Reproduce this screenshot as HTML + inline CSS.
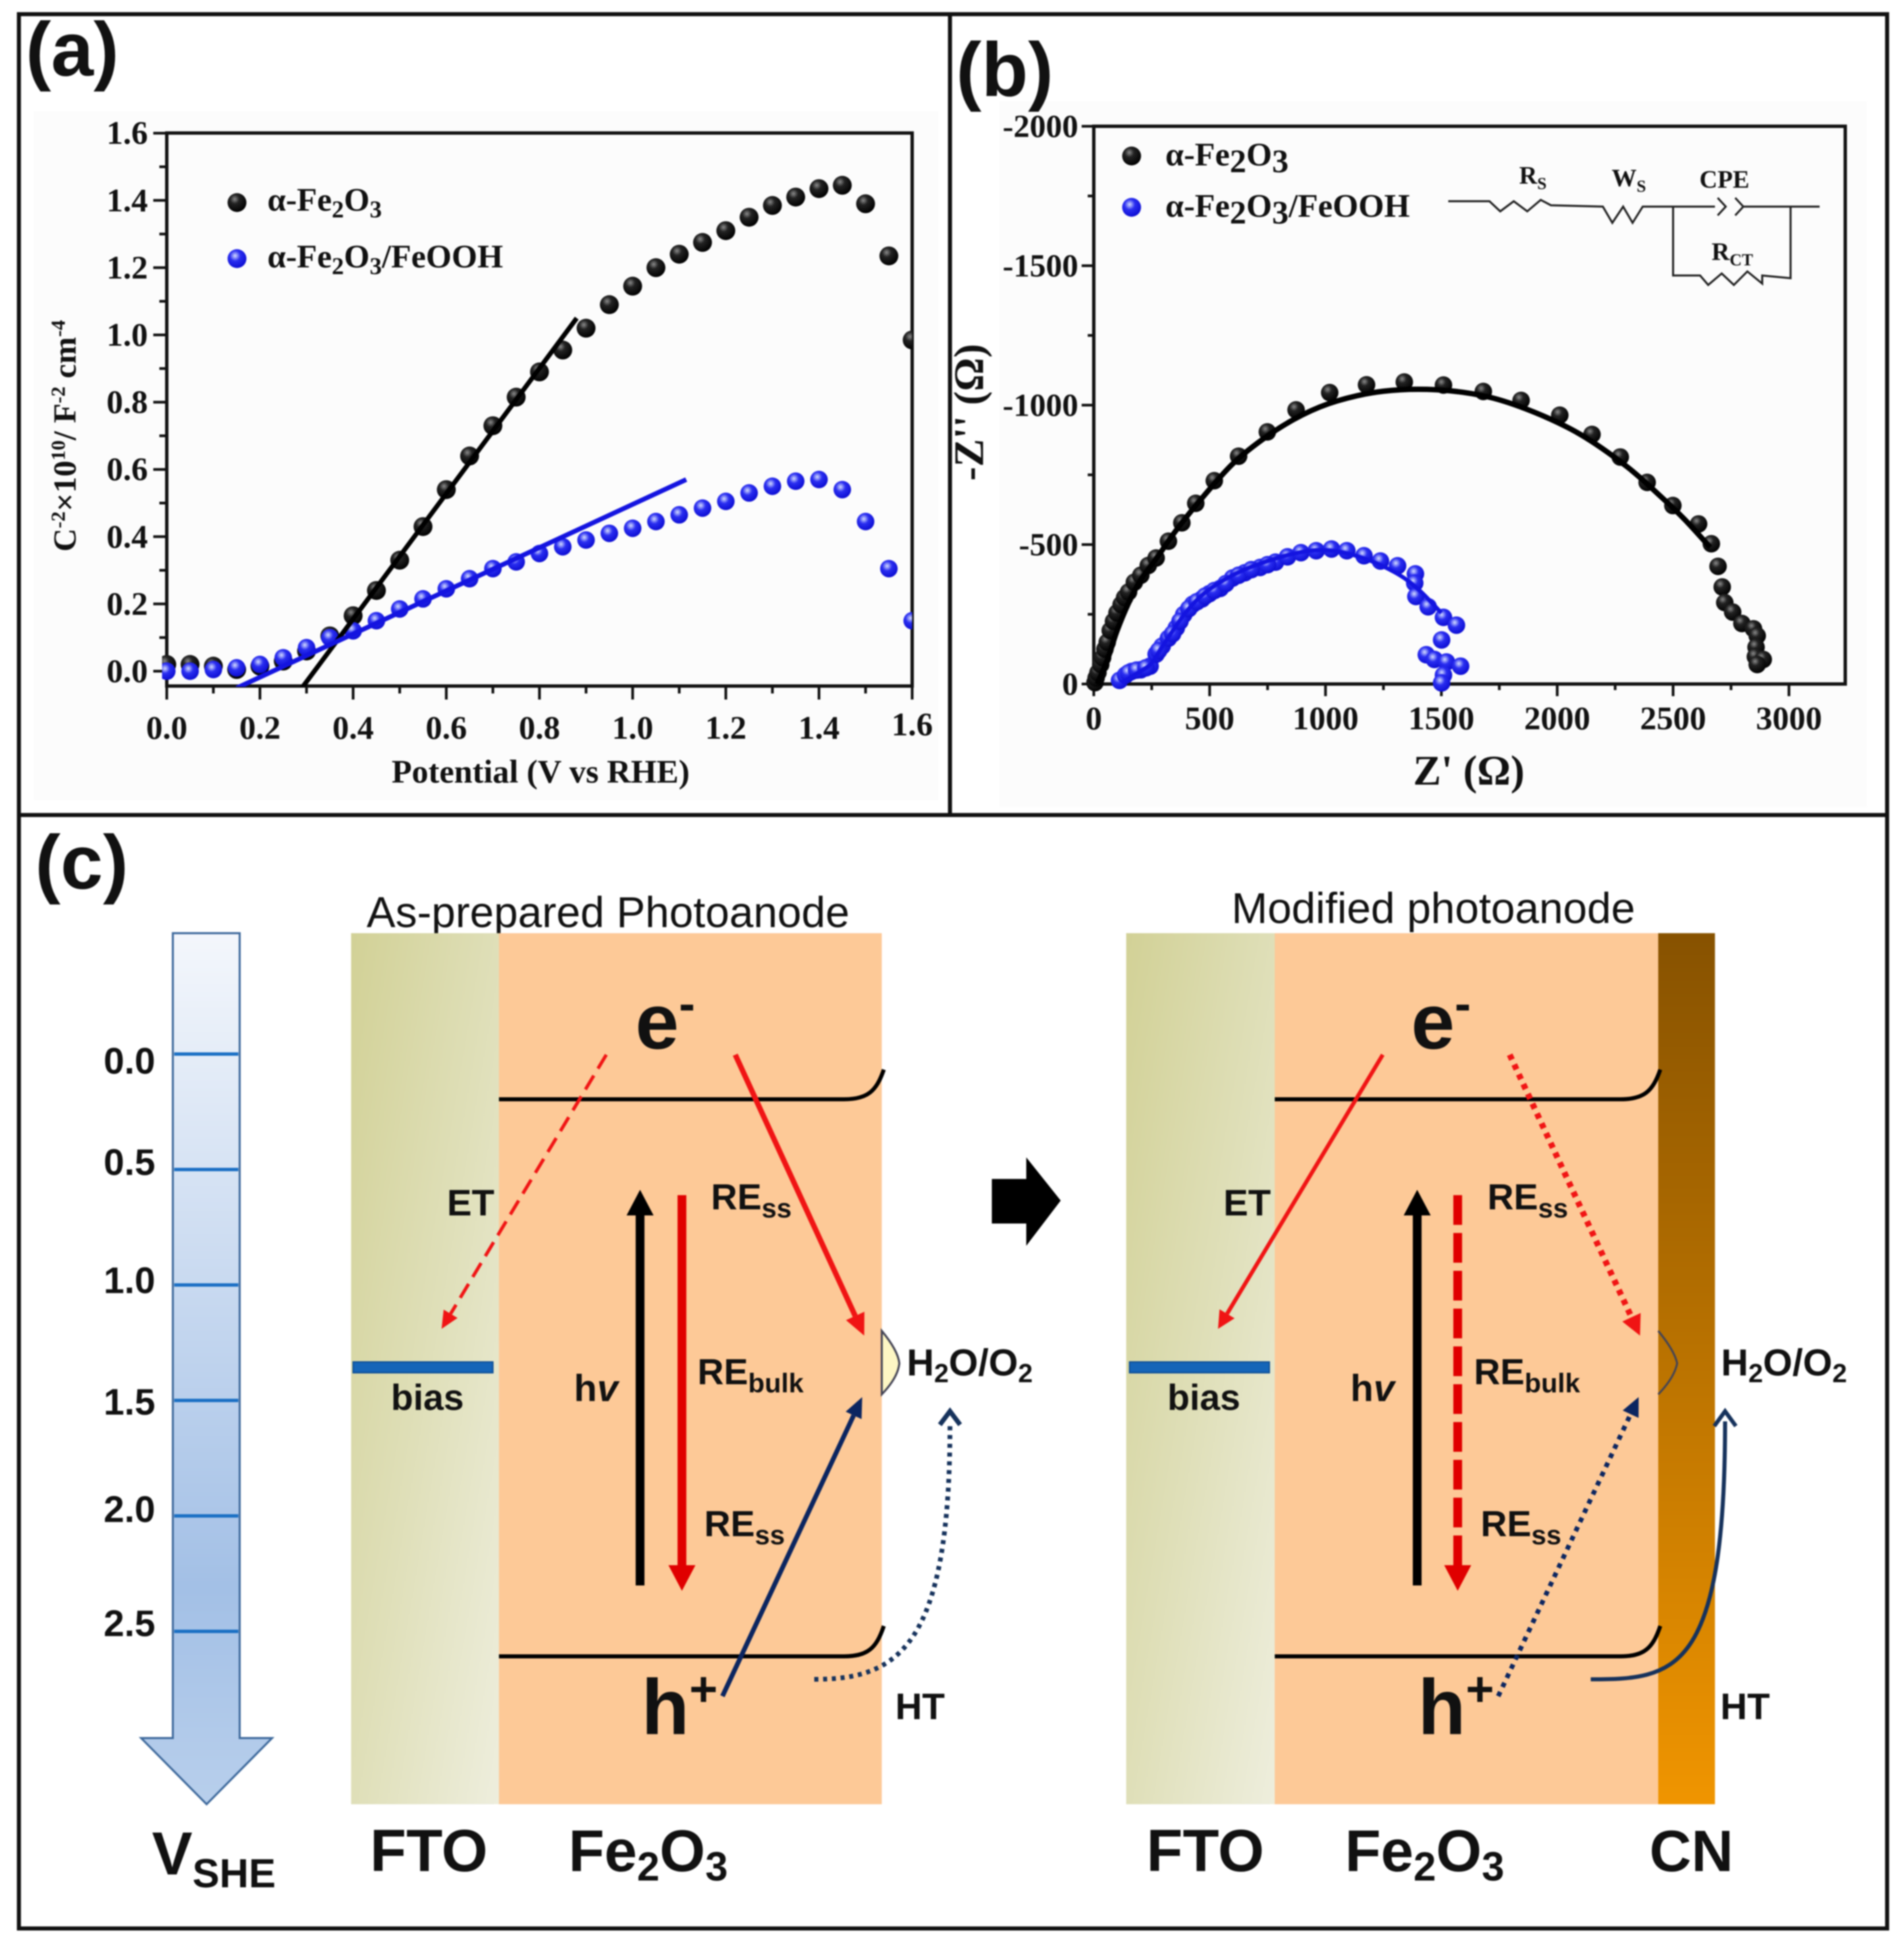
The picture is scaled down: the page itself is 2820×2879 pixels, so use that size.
<!DOCTYPE html>
<html lang="en">
<head>
<meta charset="utf-8">
<title>Photoanode characterization figure</title>
<style>
html,body{margin:0;padding:0;background:#fff;}
svg{display:block;filter:blur(1px);}
.serif{font-family:"Liberation Serif",serif;font-weight:bold;fill:#111;}
.sans{font-family:"Liberation Sans",sans-serif;fill:#111;}
.bold{font-weight:bold;}
</style>
</head>
<body>
<svg id="fig" xmlns="http://www.w3.org/2000/svg" width="2820" height="2879" viewBox="0 0 2820 2879">
<defs>
<radialGradient id="ballBlack" cx="38%" cy="32%" r="70%"><stop offset="0" stop-color="#8a8a8a"/><stop offset=".35" stop-color="#222"/><stop offset="1" stop-color="#000"/></radialGradient>
<radialGradient id="ballBlue" cx="40%" cy="35%" r="70%"><stop offset="0" stop-color="#d4ddff"/><stop offset=".4" stop-color="#2a2ef0"/><stop offset="1" stop-color="#0a0ad0"/></radialGradient>
<clipPath id="clipA"><rect x="240" y="190" width="1111" height="827"/></clipPath>
<linearGradient id="ftoGrad" x1="0" y1="0" x2="1" y2="1"><stop offset="0" stop-color="#d2d196"/><stop offset=".5" stop-color="#dfdfb8"/><stop offset="1" stop-color="#eeeedd"/></linearGradient>
<linearGradient id="cnGrad" x1="0" y1="0" x2="0" y2="1"><stop offset="0" stop-color="#875200"/><stop offset="1" stop-color="#f09500"/></linearGradient>
<linearGradient id="scaleGrad" x1="0" y1="0" x2="0" y2="1"><stop offset="0" stop-color="#f4f7fc"/><stop offset=".75" stop-color="#a3c0e6"/><stop offset="1" stop-color="#b8cfec"/></linearGradient>
</defs>

<rect width="2820" height="2879" fill="#fff"/>
<rect x="50" y="165" width="1340" height="1020" fill="#fcfcfc"/>
<rect x="1480" y="150" width="1285" height="1045" fill="#fcfcfc"/>

<g id="plotA"></g>
<g id="plotB"></g>

<g fill="none" stroke="#111" stroke-width="6">
<rect x="28" y="21" width="2767" height="2835"/>
<line x1="1407" y1="21" x2="1407" y2="1207"/>
<line x1="28" y1="1207" x2="2795" y2="1207"/>
</g>

<text class="sans bold" x="38" y="112" font-size="113">(a)</text>
<text class="sans bold" x="1416" y="142" font-size="113">(b)</text>
<text class="sans bold" x="52" y="1316" font-size="113">(c)</text>

<g id="scale">
<path d="M256,1382H355V2574H403L306,2672L209,2574H256Z" fill="url(#scaleGrad)" stroke="#3f6a9c" stroke-width="3"/>
</g>
<text class="sans bold" x="225" y="2776" font-size="90">V<tspan font-size="60" dy="19">SHE</tspan></text>

<g>
<text class="sans" x="543" y="1373" font-size="64">As-prepared Photoanode</text>
<rect x="520" y="1382" width="219" height="1290" fill="url(#ftoGrad)"/>
<rect x="739" y="1382" width="567" height="1290" fill="#fdc997"/>
<path d="M739,1628H1250C1285,1628 1298,1616 1309,1584" fill="none" stroke="#000" stroke-width="6"/>
<path d="M739,2453H1250C1285,2453 1298,2441 1309,2408" fill="none" stroke="#000" stroke-width="6"/>
<rect x="523" y="2017" width="207" height="16" fill="#1565b8" stroke="#0e4f96" stroke-width="2"/>
<text class="sans bold" x="579" y="2088" font-size="54">bias</text>
<text class="sans bold" x="941" y="1553" font-size="116">e<tspan font-size="72" dy="-42">-</tspan></text>
<text class="sans bold" x="950" y="2568" font-size="116">h<tspan font-size="72" dy="-42">+</tspan></text>
<text class="sans bold" x="662" y="1800" font-size="55">ET</text>
<text class="sans bold" x="1053" y="1791" font-size="54">RE<tspan font-size="40" dy="12">ss</tspan></text>
<text class="sans bold" x="1033" y="2050" font-size="54">RE<tspan font-size="40" dy="12">bulk</tspan></text>
<text class="sans bold" x="1043" y="2275" font-size="54">RE<tspan font-size="40" dy="12">ss</tspan></text>
<text class="sans bold" x="850" y="2075" font-size="56">h<tspan font-style="italic">v</tspan></text>
<path d="M1306,1971Q1330,2000 1332,2019Q1330,2040 1306,2065Z" fill="#fdf6c4" stroke="#445" stroke-width="3"/>
<text class="sans bold" x="1343" y="2037" font-size="56">H<tspan font-size="39" dy="10">2</tspan><tspan dy="-10">O/O</tspan><tspan font-size="39" dy="10">2</tspan></text>
<text class="sans bold" x="1326" y="2546" font-size="55">HT</text>
<path d="M1206,2487C1330,2487 1407,2440 1407,2110" fill="none" stroke="#16325c" stroke-width="7" stroke-dasharray="6 7"/>
<polyline points="1392,2110 1407,2090 1422,2110" fill="none" stroke="#16325c" stroke-width="7"/>
<text class="sans bold" x="548" y="2771" font-size="88">FTO</text>
<text class="sans bold" x="842" y="2771" font-size="87">Fe<tspan font-size="60" dy="14">2</tspan><tspan dy="-14">O</tspan><tspan font-size="60" dy="14">3</tspan></text>
</g>

<g>
<text class="sans" x="1824" y="1367" font-size="64">Modified photoanode</text>
<rect x="1668" y="1382" width="220" height="1290" fill="url(#ftoGrad)"/>
<rect x="1888" y="1382" width="568" height="1290" fill="#fdc997"/>
<rect x="2456" y="1382" width="84" height="1290" fill="url(#cnGrad)"/>
<path d="M1888,1628H2400C2435,1628 2448,1616 2459,1584" fill="none" stroke="#000" stroke-width="6"/>
<path d="M1888,2453H2400C2435,2453 2448,2441 2459,2408" fill="none" stroke="#000" stroke-width="6"/>
<rect x="1673" y="2017" width="207" height="16" fill="#1565b8" stroke="#0e4f96" stroke-width="2"/>
<text class="sans bold" x="1729" y="2088" font-size="54">bias</text>
<text class="sans bold" x="2090" y="1553" font-size="116">e<tspan font-size="72" dy="-42">-</tspan></text>
<text class="sans bold" x="2100" y="2568" font-size="116">h<tspan font-size="72" dy="-42">+</tspan></text>
<text class="sans bold" x="1812" y="1800" font-size="55">ET</text>
<text class="sans bold" x="2203" y="1791" font-size="54">RE<tspan font-size="40" dy="12">ss</tspan></text>
<text class="sans bold" x="2183" y="2050" font-size="54">RE<tspan font-size="40" dy="12">bulk</tspan></text>
<text class="sans bold" x="2193" y="2275" font-size="54">RE<tspan font-size="40" dy="12">ss</tspan></text>
<text class="sans bold" x="2000" y="2075" font-size="56">h<tspan font-style="italic">v</tspan></text>
<path d="M2456,1971Q2480,2000 2484,2019Q2480,2040 2456,2065" fill="none" stroke="#445" stroke-width="3"/>
<text class="sans bold" x="2549" y="2037" font-size="56">H<tspan font-size="39" dy="10">2</tspan><tspan dy="-10">O/O</tspan><tspan font-size="39" dy="10">2</tspan></text>
<text class="sans bold" x="2548" y="2546" font-size="55">HT</text>
<path d="M2356,2487C2480,2487 2555,2480 2555,2105" fill="none" stroke="#16325c" stroke-width="6"/>
<polyline points="2539,2112 2555,2090 2571,2112" fill="none" stroke="#16325c" stroke-width="6"/>
<text class="sans bold" x="1698" y="2771" font-size="88">FTO</text>
<text class="sans bold" x="1992" y="2771" font-size="87">Fe<tspan font-size="60" dy="14">2</tspan><tspan dy="-14">O</tspan><tspan font-size="60" dy="14">3</tspan></text>
<text class="sans bold" x="2443" y="2771" font-size="86">CN</text>
</g>

<polygon points="1469,1746 1520,1746 1520,1714 1571,1778 1520,1845 1520,1812 1469,1812" fill="#000"/>
<g id="arrows"></g>

<g fill="none" stroke="#222" stroke-width="3">
<polyline points="2145,298 2206,298 2222,313 2242,298 2262,313 2282,296 2297,304 2374,306 2388,330 2404,306 2418,330 2433,306 2540,306"/>
<polyline points="2544,293 2556,306 2544,319"/>
<polyline points="2570,293 2582,306 2570,319"/>
<line x1="2582" y1="306" x2="2695" y2="306"/>
<polyline points="2478,306 2478,408 2518,408 2530,422 2550,405 2568,422 2588,402 2610,420 2610,408 2652,412 2652,306"/>
</g>
<text class="serif" x="2250" y="272" font-size="37">R<tspan font-size="25" dy="8">S</tspan></text>
<text class="serif" x="2387" y="276" font-size="37">W<tspan font-size="25" dy="8">S</tspan></text>
<text class="serif" x="2517" y="278" font-size="37">CPE</text>
<text class="serif" x="2535" y="385" font-size="37">R<tspan font-size="25" dy="8">CT</tspan></text>

<script>
var NS = 'http://www.w3.org/2000/svg';

/* Panel (a) data */
var potentialA = [0,0.05,0.1,0.15,0.2,0.25,0.3,0.35,0.4,0.45,0.5,0.55,0.6,0.65,0.7,0.75,0.8,0.85,0.9,0.95,1.0,1.05,1.1,1.15,1.2,1.25,1.3,1.35,1.4,1.45,1.5,1.55,1.6];
var blackA = [0.02,0.02,0.015,0.005,0.015,0.03,0.06,0.105,0.165,0.24,0.33,0.43,0.54,0.64,0.73,0.815,0.89,0.955,1.02,1.09,1.145,1.2,1.24,1.275,1.31,1.35,1.385,1.41,1.435,1.445,1.39,1.235,0.985];
var blueA = [0,0,0.005,0.01,0.02,0.04,0.07,0.1,0.12,0.15,0.185,0.215,0.245,0.275,0.305,0.325,0.35,0.37,0.39,0.41,0.425,0.445,0.465,0.485,0.505,0.53,0.55,0.565,0.57,0.54,0.445,0.305,0.15];
var fitBlackAx = [0.29,0.88];
var fitBlackAy = [-0.05,1.05];
var fitBlueAx = [0.15,1.115];
var fitBlueAy = [-0.05,0.57];
var xTicksA = ['0.0','0.2','0.4','0.6','0.8','1.0','1.2','1.4','1.6'];
var yTicksA = ['0.0','0.2','0.4','0.6','0.8','1.0','1.2','1.4','1.6'];

/* Panel (b) data */
var zReBlack = [5,10,18,30,38,48,58,71,85,100,118,133,150,175,203,235,269,322,380,440,520,625,749,873,1018,1177,1340,1509,1681,1844,2011,2150,2272,2388,2499,2610,2665,2694,2712,2723,2757,2797,2847,2863,2858,2855,2889,2863];
var zImBlack = [5,22,41,70,95,125,150,192,225,255,285,310,330,365,390,425,452,512,578,648,729,817,904,983,1045,1073,1083,1072,1049,1017,964,895,814,723,640,574,503,422,348,292,258,217,198,173,132,98,88,70];
var zReBlue = [111,137,163,203,243,269,295,322,356,388,427,467,499,546,599,652,718,784,836,894,960,1026,1092,1166,1237,1311,1388,1385,1390,1443,1509,1565,1501,1435,1470,1522,1583,1509,1501,150,185,225,280,340,372,410,445,480,520,570,625,680,750];
var zImBlue = [13,32,45,51,64,107,136,164,201,249,286,305,324,343,380,399,418,437,456,471,478,484,478,460,441,424,395,362,314,277,239,211,158,105,88,79,64,32,4,40,50,58,120,180,225,270,295,315,335,360,390,410,428];
var fitReBlack = [15,60,100,150,200,270,350,450,600,750,900,1050,1250,1480,1700,1900,2100,2300,2450,2550,2660];
var fitImBlack = [0,90,190,290,370,450,545,650,790,890,965,1015,1050,1055,1030,975,895,780,670,590,490];
var fitReBlue = [120,200,250,300,400,500,650,850,1000,1150,1300,1400,1500];
var fitImBlue = [5,45,75,140,260,340,410,465,480,455,400,340,255];
var xTicksB = [0,500,1000,1500,2000,2500,3000];
var yTicksB = [0,500,1000,1500,2000];

/* Potential scale data */
var scaleLabels = ['0.0','0.5','1.0','1.5','2.0','2.5'];
var scaleValues = [0,0.5,1,1.5,2,2.5];

function xA(v){ return 247 + v * 690; }
function yA(v){ return 994 - v * 498; }
function xB(v){ return 1620 + v * 0.3432; }
function yB(v){ return 1013 - v * 0.413; }
function yScale(v){ return 1561 + v * 342; }

function mk(parent, tag, attrs, text){
  var el = document.createElementNS(NS, tag);
  for (var k in attrs) { el.setAttribute(k, attrs[k]); }
  if (text !== undefined) { el.textContent = text; }
  parent.appendChild(el);
  return el;
}

function smooth(pts){
  var d = 'M' + pts[0][0] + ',' + pts[0][1];
  for (var i = 0; i < pts.length - 1; i++) {
    var p0 = pts[Math.max(i-1,0)], p1 = pts[i], p2 = pts[i+1], p3 = pts[Math.min(i+2,pts.length-1)];
    d += 'C' + (p1[0]+(p2[0]-p0[0])/6) + ',' + (p1[1]+(p2[1]-p0[1])/6) + ' ' +
         (p2[0]-(p3[0]-p1[0])/6) + ',' + (p2[1]-(p3[1]-p1[1])/6) + ' ' + p2[0] + ',' + p2[1];
  }
  return d;
}

/* ---------- Panel a ---------- */
var A = document.getElementById('plotA');
var frameA = mk(A, 'rect', {x:247, y:197, width:1104, height:819, fill:'none', stroke:'#111', 'stroke-width':5});



var i, el;
for (i = 0; i <= 16; i++) {
  var major = i % 2 === 0;
  var tx = xA(i * 0.1);
  el = mk(A, 'line', {x1:tx, y1:1016, x2:tx, y2:major ? 1036 : 1027, stroke:'#111', 'stroke-width':4});
  
  
  var ty = yA(i * 0.1);
  el = mk(A, 'line', {x1:247, y1:ty, x2:major ? 227 : 236, y2:ty, stroke:'#111', 'stroke-width':4});
  
  
}
xTicksA.forEach(function(t){
  var lx = xA(parseFloat(t));
  var t1 = mk(A, 'text', {x:lx, y:parseFloat(t) === 1.6 ? 1089 : 1094, 'text-anchor':'middle', 'font-size':49, 'class':'serif'}, t);
  
  
});
yTicksA.forEach(function(t){
  var t2 = mk(A, 'text', {x:219, y:yA(parseFloat(t)) + 16, 'text-anchor':'end', 'font-size':49, 'class':'serif'}, t);
  
  
});
el = mk(A, 'text', {x:580, y:1159, 'font-size':49, 'class':'serif'}, 'Potential (V vs RHE)');



var yTitleA = mk(A, 'text', {transform:'translate(112,817) rotate(-90)', 'font-size':48, 'class':'serif'});


[['C',48,0],['-2',30,-16],['×10',48,16],['10',30,-16],['/ F',48,16],['-2',30,-16],[' cm',48,16],['-4',30,-16]].forEach(function(p){
  var s = mk(yTitleA, 'tspan', {'font-size':p[1], dy:p[2]}, p[0]);
  s.setAttribute('xml:space', 'preserve');
  s.style.whiteSpace = 'pre';
});

var clipGroupA = mk(A, 'g', {'clip-path':'url(#clipA)'});



potentialA.forEach(function(v, idx){
  var c = mk(clipGroupA, 'circle', {cx:xA(v), cy:yA(blackA[idx]), r:14, fill:'url(#ballBlack)'});
  
  
});
potentialA.forEach(function(v, idx){
  var c = mk(clipGroupA, 'circle', {cx:xA(v), cy:yA(blueA[idx]), r:13, fill:'url(#ballBlue)'});
  
  
});
el = mk(clipGroupA, 'line', {x1:xA(fitBlackAx[0]), y1:yA(fitBlackAy[0]), x2:xA(fitBlackAx[1]), y2:yA(fitBlackAy[1]), stroke:'#000', 'stroke-width':7});


el = mk(clipGroupA, 'line', {x1:xA(fitBlueAx[0]), y1:yA(fitBlueAy[0]), x2:xA(fitBlueAx[1]), y2:yA(fitBlueAy[1]), stroke:'#1414e0', 'stroke-width':7});



function legendLabel(parent, x, y, fs, subFs, rest, nameStr){
  var t = mk(parent, 'text', {x:x, y:y, 'font-size':fs, 'class':'serif'});
  
  
  mk(t, 'tspan', {}, 'α-Fe');
  mk(t, 'tspan', {'font-size':subFs, dy:10}, '2');
  mk(t, 'tspan', {dy:-10}, 'O');
  mk(t, 'tspan', {'font-size':subFs, dy:10}, '3');
  if (rest) { mk(t, 'tspan', {dy:-10}, rest); }
}
el = mk(A, 'circle', {cx:351, cy:300, r:14, fill:'url(#ballBlack)'});


el = mk(A, 'circle', {cx:351, cy:383, r:14, fill:'url(#ballBlue)'});


legendLabel(A, 396, 312, 49, 36, '', 'panel-a-legend-label-black');
legendLabel(A, 396, 396, 49, 36, '/FeOOH', 'panel-a-legend-label-blue');

/* ---------- Panel b ---------- */
var B = document.getElementById('plotB');
var frameB = mk(B, 'rect', {x:1620, y:187, width:1113, height:826, fill:'none', stroke:'#111', 'stroke-width':5});



for (i = 0; i <= 12; i++) {
  var mj = i % 2 === 0;
  var bx = xB(i * 250);
  el = mk(B, 'line', {x1:bx, y1:1013, x2:bx, y2:mj ? 1031 : 1022, stroke:'#111', 'stroke-width':4});
  
  
}
for (i = 0; i <= 8; i++) {
  var mjy = i % 2 === 0;
  var by = yB(i * 250);
  el = mk(B, 'line', {x1:1620, y1:by, x2:mjy ? 1602 : 1611, y2:by, stroke:'#111', 'stroke-width':4});
  
  
}
xTicksB.forEach(function(t){
  var l = mk(B, 'text', {x:xB(t), y:1080, 'text-anchor':'middle', 'font-size':49, 'class':'serif'}, String(t));
  
  
});
yTicksB.forEach(function(t){
  var l = mk(B, 'text', {x:1597, y:yB(t) + 16, 'text-anchor':'end', 'font-size':48, 'class':'serif'}, t === 0 ? '0' : '-' + t);
  
  
});
el = mk(B, 'text', {x:2093, y:1162, 'font-size':62, 'class':'serif'}, "Z' (Ω)");


el = mk(B, 'text', {transform:'translate(1456,712) rotate(-90)', 'font-size':62, 'class':'serif'}, "-Z'' (Ω)");



zReBlack.forEach(function(v, idx){
  var c = mk(B, 'circle', {cx:xB(v), cy:yB(zImBlack[idx]), r:13, fill:'url(#ballBlack)'});
  
  
});
zReBlue.forEach(function(v, idx){
  var c = mk(B, 'circle', {cx:xB(v), cy:yB(zImBlue[idx]), r:13, fill:'url(#ballBlue)'});
  
  
});
var fitPtsBlack = fitReBlack.map(function(v, idx){ return [xB(v), yB(fitImBlack[idx])]; });
el = mk(B, 'path', {d:smooth(fitPtsBlack), fill:'none', stroke:'#000', 'stroke-width':8});


var fitPtsBlue = fitReBlue.map(function(v, idx){ return [xB(v), yB(fitImBlue[idx])]; });
el = mk(B, 'path', {d:smooth(fitPtsBlue), fill:'none', stroke:'#1414e0', 'stroke-width':6});



el = mk(B, 'circle', {cx:1676, cy:231, r:14, fill:'url(#ballBlack)'});


el = mk(B, 'circle', {cx:1676, cy:307, r:14, fill:'url(#ballBlue)'});


legendLabel(B, 1726, 245, 49, 49, '', 'panel-b-legend-label-black');
legendLabel(B, 1726, 321, 49, 49, '/FeOOH', 'panel-b-legend-label-blue');

/* ---------- Potential scale ---------- */
var S = document.getElementById('scale');
scaleValues.forEach(function(v, idx){
  var yy = yScale(v);
  var nudge = [29,8,12,21,9,7][idx];
  var ln = mk(S, 'line', {x1:258, y1:yy, x2:353, y2:yy, stroke:'#1a6fc4', 'stroke-width':5});
  
  
  var lb = mk(S, 'text', {x:230, y:yy + nudge, 'text-anchor':'end', 'font-size':55, 'class':'sans bold'}, scaleLabels[idx]);
  
  
});

/* ---------- Charge-transfer arrows ---------- */
var G = document.getElementById('arrows');
function arrow(nameStr, x1, y1, x2, y2, w, color, hl, hw, dash){
  var dx = x2 - x1, dy = y2 - y1, len = Math.sqrt(dx*dx + dy*dy), ux = dx/len, uy = dy/len;
  var bx = x2 - ux*hl, by = y2 - uy*hl;
  var g = mk(G, 'g', {});
  
  
  var attrs = {x1:x1, y1:y1, x2:bx, y2:by, stroke:color, 'stroke-width':w};
  if (dash) { attrs['stroke-dasharray'] = dash; }
  mk(g, 'line', attrs);
  mk(g, 'polygon', {points:x2 + ',' + y2 + ' ' + (bx - uy*hw/2) + ',' + (by + ux*hw/2) + ' ' + (bx + uy*hw/2) + ',' + (by - ux*hw/2), fill:color});
}
arrow('et-dashed-arrow', 898,1562, 654,1968, 5, '#f01414', 26, 24, '24 12');
arrow('re-ss-upper-arrow', 1089,1562, 1280,1978, 8, '#f01414', 32, 30);
arrow('photon-arrow', 948,2348, 948,1762, 13, '#000', 38, 40);
arrow('re-bulk-arrow', 1010,1770, 1010,2356, 13, '#e00000', 38, 40);
arrow('hole-arrow', 1070,2512, 1277,2069, 7, '#0b2560', 30, 26);
arrow('et-arrow-modified', 2048,1562, 1804,1968, 6, '#f01414', 26, 26);
arrow('re-ss-upper-dotted-arrow', 2236,1562, 2429,1978, 9, '#f01414', 30, 30, '8 8');
arrow('photon-arrow-modified', 2099,2348, 2099,1762, 13, '#000', 38, 40);
arrow('re-bulk-dashed-arrow', 2159,1770, 2159,2356, 13, '#e00000', 38, 40, '44 12');
arrow('hole-dotted-arrow', 2219,2512, 2427,2069, 7, '#0b2560', 28, 26, '7 8');
</script>
</svg>
</body>
</html>
